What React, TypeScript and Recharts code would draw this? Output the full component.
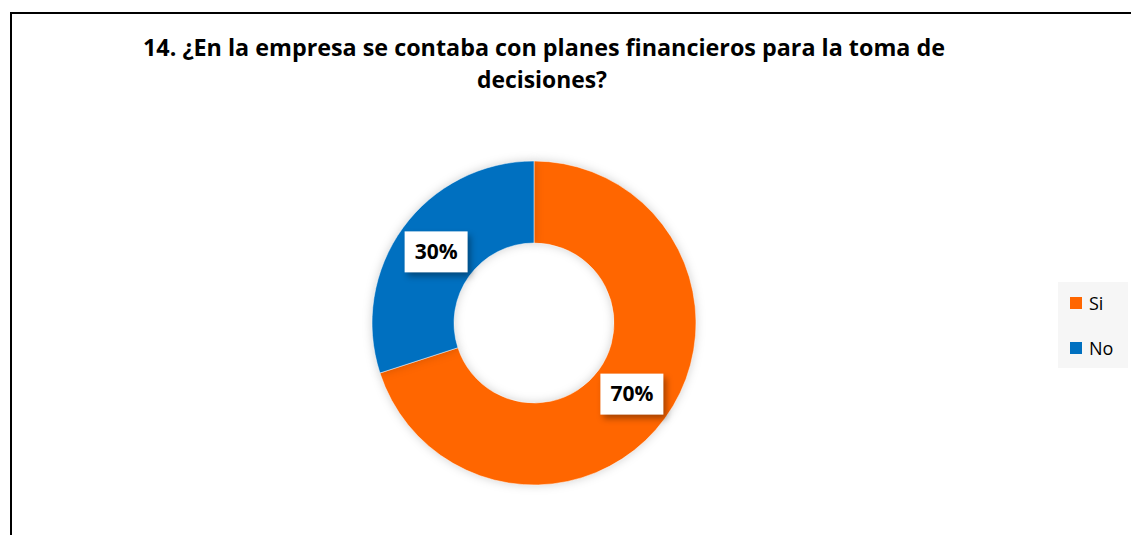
import React from "react";
import { PieChart, Pie, Cell, Legend } from "recharts";

// Answers and their shares (%)
const answers = ["Si", "No"];
const shares = [70, 30];
const COLORS = ["#FF6600", "#0070C0"];

const TITLE_LINES = [
  "14. ¿En la empresa se contaba con planes financieros para la toma de",
  "decisiones?",
];

const data = answers.map((name, i) => ({ name, value: shares[i] }));

const RADIAN = Math.PI / 180;

const renderLabel = (props: any) => {
  const { cx, cy, midAngle, innerRadius, outerRadius, percent } = props;
  const r = (innerRadius + outerRadius) / 2;
  const x = cx + r * Math.cos(-midAngle * RADIAN);
  const y = cy + r * Math.sin(-midAngle * RADIAN);
  const w = 63;
  const h = 41;
  return (
    <g>
      <rect
        x={x - w / 2}
        y={y - h / 2}
        width={w}
        height={h}
        fill="#fff"
        style={{ filter: "drop-shadow(3px 4px 3px rgba(0,0,0,0.35))" }}
      />
      <text
        x={x}
        y={y + 1}
        textAnchor="middle"
        dominantBaseline="middle"
        fontFamily="'Open Sans', sans-serif"
        fontWeight={700}
        fontSize={21}
        fill="#000"
      >
        {`${Math.round(percent * 100)}%`}
      </text>
    </g>
  );
};

const renderLegend = (props: any) => {
  // keep legend in the same order as the answers
  const payload = [...(props.payload || [])].sort(
    (a: any, b: any) => answers.indexOf(a.value) - answers.indexOf(b.value)
  );
  return (
    <div
      style={{
        background: "#f6f6f6",
        width: 70,
        height: 86,
        boxSizing: "border-box",
        paddingTop: 10,
        paddingLeft: 12,
      }}
    >
      {payload.map((entry: any, i: number) => (
        <div
          key={`leg-${i}`}
          style={{
            display: "flex",
            alignItems: "center",
            height: 22,
            marginBottom: i === 0 ? 23 : 0,
            fontFamily: "'Open Sans', sans-serif",
            fontSize: 18,
            color: "#000",
          }}
        >
          <span
            style={{
              display: "inline-block",
              width: 12,
              height: 12,
              background: entry.color,
              marginRight: 7,
            }}
          />
          {entry.value}
        </div>
      ))}
    </div>
  );
};

export default function App() {
  return (
    <div
      style={{
        position: "absolute",
        left: 0,
        top: 0,
        width: 1131,
        height: 535,
        overflow: "hidden",
        background: "#fff",
      }}
    >
      <style>{`.recharts-pie-sector path { filter: drop-shadow(0 0 5px rgba(0,0,0,0.18)); }`}</style>
      <div
        style={{
          position: "absolute",
          left: 10,
          top: 12,
          width: 1140,
          height: 540,
          border: "2.5px solid #000",
          boxSizing: "border-box",
        }}
      />
      <svg
        width={1131}
        height={110}
        style={{ position: "absolute", left: 0, top: 0 }}
      >
        <text
          x={143}
          y={56}
          textLength={802}
          lengthAdjust="spacingAndGlyphs"
          fontFamily="'Open Sans', sans-serif"
          fontWeight={700}
          fontSize={24}
          fill="#000"
        >
          {TITLE_LINES[0]}
        </text>
        <text
          x={477}
          y={88}
          textLength={130}
          lengthAdjust="spacingAndGlyphs"
          fontFamily="'Open Sans', sans-serif"
          fontWeight={700}
          fontSize={24}
          fill="#000"
        >
          {TITLE_LINES[1]}
        </text>
      </svg>
      <div style={{ position: "absolute", left: 0, top: 0 }}>
        <PieChart
          width={1131}
          height={535}
          margin={{ top: 0, right: 0, bottom: 0, left: 0 }}
        >
          <Pie
            data={data}
            dataKey="value"
            nameKey="name"
            cx={534}
            cy={323}
            innerRadius={80}
            outerRadius={162}
            startAngle={90}
            endAngle={-270}
            stroke="#ffffff"
            strokeWidth={0.5}
            label={renderLabel}
            labelLine={false}
            isAnimationActive={false}
          >
            {data.map((entry, i) => (
              <Cell key={`cell-${i}`} fill={COLORS[i]} />
            ))}
          </Pie>
          <Legend
            layout="vertical"
            content={renderLegend}
            wrapperStyle={{ position: "absolute", left: 1058, top: 282, width: 70 }}
          />
        </PieChart>
      </div>
    </div>
  );
}
